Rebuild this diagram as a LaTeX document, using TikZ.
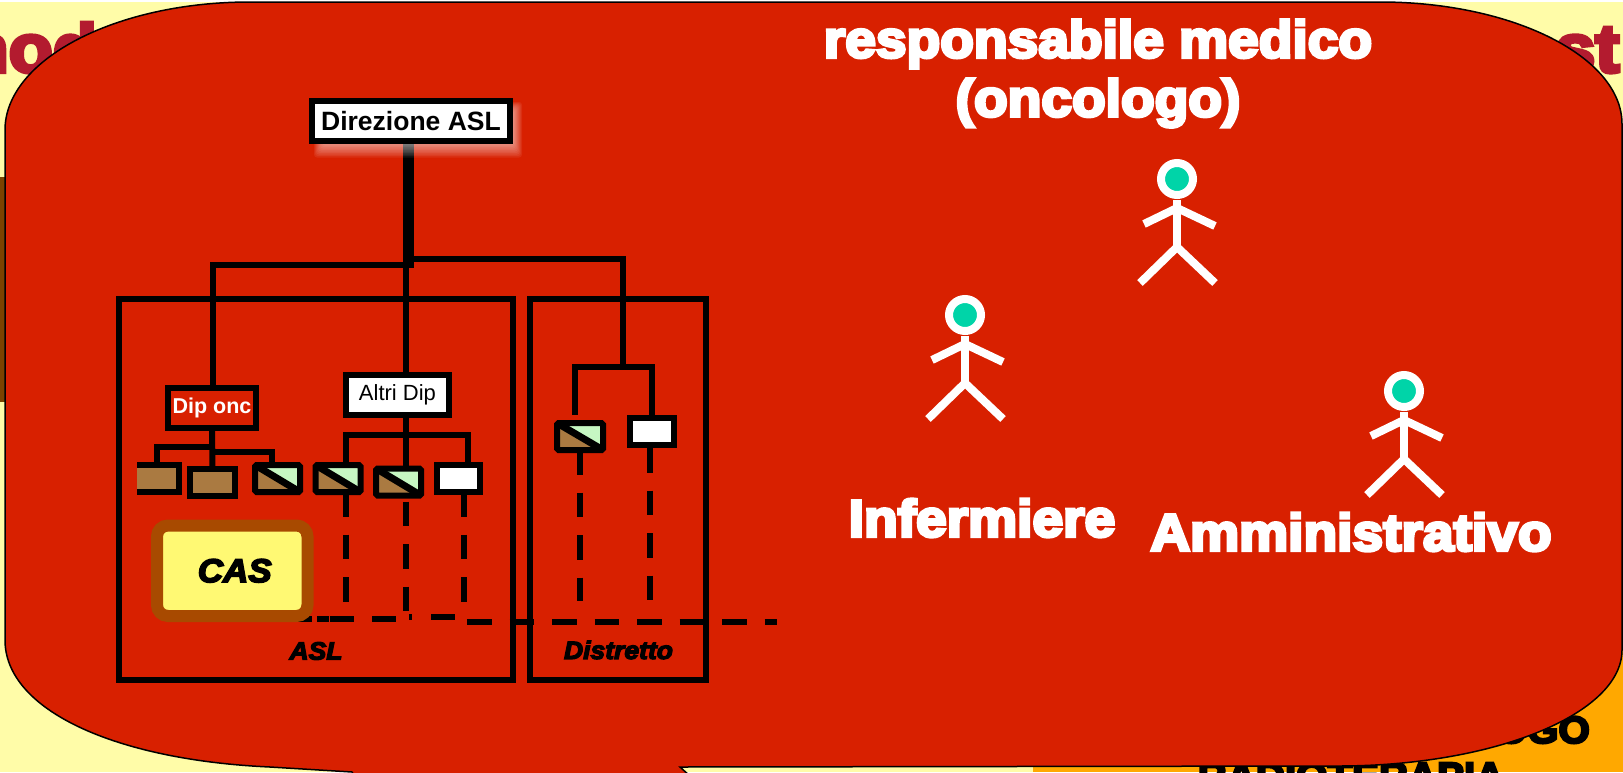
\documentclass[tikz,border=0pt]{standalone}
\usepackage{fontspec}
\setmainfont{Liberation Sans}
\newfontfamily\heavyfont[BoldFeatures={FakeBold=6,FakeStretch=1.06},BoldItalicFeatures={FakeBold=5,FakeStretch=1.06}]{Liberation Sans}
\usetikzlibrary{calc}
\definecolor{slideyellow}{HTML}{FFFCA8}
\definecolor{slideorange}{HTML}{FFA800}
\definecolor{slidebrown}{HTML}{7A4300}
\definecolor{titlered}{HTML}{B31B2F}
\definecolor{calloutred}{HTML}{D82000}
\definecolor{boxbrown}{HTML}{AA7A41}
\definecolor{boxgreen}{HTML}{C6F7C3}
\definecolor{casborder}{HTML}{A84A00}
\definecolor{casyellow}{HTML}{FFF973}
\definecolor{headteal}{HTML}{00D4A8}
\tikzset{
  wire/.style={line width=6pt, line join=miter},
  dashwire/.style={line width=6pt, dash pattern=on 24.5pt off 18pt},
  orgbox/.style={draw, line width=6pt, outer sep=0pt, inner sep=0pt, minimum width=#1},
  orgbox/.default=45pt,
  smallbox/.style={orgbox, minimum height=27pt},
  brownbox/.style={smallbox, fill=boxbrown},
  whitebox/.style={smallbox, fill=white},
  splitbox/.style={smallbox, fill=boxbrown, rounded corners=1.5pt, path picture={
      \fill[boxgreen] (path picture bounding box.north west) -- (path picture bounding box.north east) -- (path picture bounding box.south east) -- cycle;
      \draw[line width=7pt] (path picture bounding box.north west) -- (path picture bounding box.south east);}},
  topbox/.style={draw, line width=6pt, fill=white, outer sep=0pt, inner sep=0pt, minimum width=198pt, minimum height=40pt, font=\bfseries\fontsize{26.5}{28}\selectfont},
  limb/.style={white, line width=8pt},
  bigtext/.style={font=\heavyfont\bfseries\fontsize{52}{58}\selectfont, white, inner sep=0pt},
  backtext/.style={font=\heavyfont\bfseries\fontsize{68}{72}\selectfont, titlered, inner sep=0pt},
  zonelabel/.style={font=\heavyfont\bfseries\itshape\fontsize{25}{28}\selectfont, inner sep=0pt}
}
\begin{document}
\begin{tikzpicture}[x=1pt, y=-1pt]
  \useasboundingbox (0,0) rectangle (1623,772);
  \clip (0,0) rectangle (1623,772);

  % Slide behind the callout
  \fill[white] (0,0) rectangle (1623,772);
  \fill[slideyellow] (0,2) rectangle (1623,772);
  \fill[slideorange] (1033,640) rectangle (1623,772);
  \fill[slidebrown] (0,177) rectangle (6,402);
  \node[backtext, anchor=base east] (titleleft) at (97,72) {nod};
  \node[backtext, anchor=base west] (titleright) at (1515,72) {est};
  \node[font=\heavyfont\bfseries\fontsize{38}{40}\selectfont, inner sep=0pt, anchor=base east] (footone) at (1590,743) {OGO};
  \node[font=\heavyfont\bfseries\fontsize{38}{40}\selectfont, inner sep=0pt, anchor=base] (foottwo) at (1351,789) {RADIOTERAPIA};

  % Callout
  \draw[fill=calloutred, line width=1.5pt] (5,130) .. controls (5,60) and (115,2) .. (250,2)
    -- (1380,2) .. controls (1513,2) and (1622,57) .. (1622,124)
    -- (1622,650) .. controls (1622,714) and (1494,766) .. (1338,766)
    -- (680,767) -- (700,785) -- (360,785) -- (352,772) -- (270,767)
    .. controls (115,760) and (5,710) .. (5,640) -- cycle;

  % Titles and people
  \node[bigtext] (title) at (1098,44) {responsabile medico};
  \node[bigtext] (titlesub) at (1098,103) {(oncologo)};
  \node[bigtext] (nurse) at (982,518) {Infermiere};
  \node[bigtext] (clerk) at (1351,532) {Amministrativo};
  \foreach \hx/\hy/\hname in {1177/179/headdoc, 965/315/headnurse, 1404/391/headclerk} {
    \node[circle, draw=white, fill=headteal, line width=8pt, minimum size=32pt, inner sep=0pt, outer sep=0pt] (\hname) at (\hx,\hy) {};
    \draw[limb] ($(\hname)+(0,21)$) -- ($(\hname)+(0,70)$);
    \draw[limb] ($(\hname)+(0,29)$) -- ($(\hname)+(-33,45)$);
    \draw[limb] ($(\hname)+(0,29)$) -- ($(\hname)+(38,47)$);
    \draw[limb, line join=bevel] ($(\hname)+(-37,104)$) -- ($(\hname)+(0,68)$) -- ($(\hname)+(38,104)$);
  }

  % Trunk and branches
  \coordinate (trunkend) at (408.5,268);
  \coordinate (branchleft) at (212.5,265);
  \coordinate (branchmid) at (406,265);
  \coordinate (branchright) at (623,258.5);
  \node[topbox] (dirasl) at (411,121) {Direzione ASL};
  \draw[line width=11pt] (dirasl.south -| trunkend) -- (trunkend);
  \foreach \i in {1,...,10}
    \fill[white, opacity=0.07, rounded corners=3pt] ($(dirasl.north west)+(1+\i,\i)$) rectangle ($(dirasl.south east)+(13-\i,18-1.5*\i)$);
  \node[topbox] (dirasl) at (411,121) {Direzione ASL};

  % ASL and Distretto frames
  \draw[line width=6pt] (119,299) rectangle (513,680);
  \draw[line width=6pt] (530,299) rectangle (706,680);
  \node[zonelabel] (asl) at (316,651) {ASL};
  \node[zonelabel] (distretto) at (618.5,650) {Distretto};

  % Departments
  \node[orgbox=88pt, minimum height=40pt, fill=calloutred, text=white, font=\bfseries\fontsize{21.5}{24}\selectfont] (diponc) at (212,408) {Dip onc};
  \node[orgbox=103pt, minimum height=40pt, fill=white, font=\fontsize{22}{26}\selectfont] (altridip) at (397.5,395) {Altri Dip};
  \draw[wire] (branchright |- trunkend) ++(-209,-9.5) -- (branchright) -- (623,367);
  \draw[wire] (trunkend) ++(5,-3) -- (branchleft) -- (diponc.north -| branchleft);
  \draw[wire] (trunkend -| branchmid) -- (altridip.north -| branchmid);

  % Boxes under Dip onc
  \node[smallbox, draw=none, minimum width=42pt, fill=boxbrown] (onca) at (158,478.5) {};
  \draw[wire] (onca.north west) -- (onca.north east) -- (onca.south east) -- (onca.south west);
  \node[brownbox] (oncb) at (212.5,482.5) {};
  \node[splitbox] (oncc) at (277.5,478.5) {};
  \draw[wire] (diponc.south) -- (oncb.north);
  \draw[wire] (212,447) -| (156.5,465);
  \draw[wire] (212,452) -| (271.5,465);

  % Boxes under Altri Dip
  \node[splitbox] (altria) at (338,478.5) {};
  \node[splitbox] (altrib) at (398.5,482) {};
  \node[whitebox, minimum width=43pt] (altric) at (458.5,478.5) {};
  \draw[wire] (altridip.south -| branchmid) -- (altrib.north -| branchmid);
  \draw[wire] (345.5,465) |- (467.5,435) -- (467.5,465);

  % Boxes in Distretto
  \coordinate (distbranch) at (623,367);
  \node[splitbox, minimum width=46pt] (dista) at (580,436.5) {};
  \node[whitebox, minimum width=44pt] (distb) at (652,431.5) {};
  \draw[wire] (575,415) |- (distbranch) -| (652,415);

  % Dashed links
  \draw[dashwire] (altria.south -| 345.5,0) -- (345.5,605);
  \draw[dashwire] (406,501.7) -- (406,611);
  \draw[dashwire] (altric.south -| 464,0) -- (464,607);
  \draw[dashwire] (dista.south) -- (580,601);
  \draw[dashwire] (650,448) -- (650,600);
  \draw[dashwire] (287,618.5) -- (396,618.5);
  \draw[wire] (317,618.5) -- (329,618.5);
  \draw[wire] (409,616.5) -- (412,616.5);
  \draw[wire] (431,616.5) -- (455,616.5);
  \draw[dashwire] (467,622) -- (777,622);

  % CAS
  \node[draw=casborder, fill=casyellow, line width=12pt, rounded corners=11pt, minimum width=150.5pt, minimum height=90.5pt, inner sep=0pt, outer sep=0pt, font=\heavyfont\bfseries\itshape\fontsize{33}{34}\selectfont] (cas) at (232.25,570.75) {\hspace{5pt}CAS};
\end{tikzpicture}
\end{document}
